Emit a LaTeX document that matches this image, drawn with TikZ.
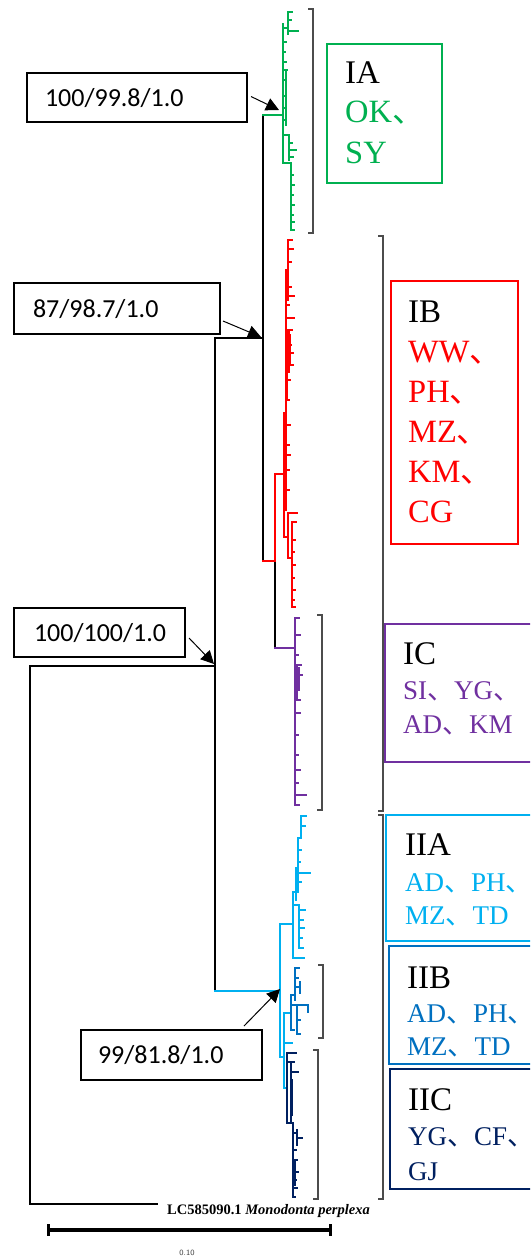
\documentclass[tikz,border=0pt]{standalone}
\usepackage{fontspec}
\setmainfont{Liberation Serif}
\newfontfamily\cjkf{Noto Sans CJK SC}
\newfontfamily\calib{Carlito}
\usetikzlibrary{arrows.meta,calc}
\definecolor{cgreen}{HTML}{00B050}
\definecolor{cred}{HTML}{FF0000}
\definecolor{cpurple}{HTML}{7030A0}
\definecolor{clblue}{HTML}{00B0F0}
\definecolor{cmblue}{HTML}{0070C0}
\definecolor{cnavy}{HTML}{002060}
\newcommand{\dn}{{\cjkf 、}}
\tikzset{
  tl/.style={line width=1.6pt, line cap=rect},
  blk/.style={tl, draw=black},
  gr/.style={tl, draw=cgreen},
  rd/.style={tl, draw=cred},
  pu/.style={tl, draw=cpurple},
  lb/.style={tl, draw=clblue},
  mb/.style={tl, draw=cmblue},
  nv/.style={tl, draw=cnavy},
  brk/.style={line width=1.3pt, draw=black!70},
  lbox/.style={draw, line width=2pt, anchor=north west, inner ysep=0pt, align=left,
    text height=17pt, text depth=0pt, font=\calib\fontsize{26}{26}\selectfont},
  cbox/.style={draw=#1, line width=2pt, anchor=north west, inner sep=0pt},
  head/.style={anchor=base west, inner sep=0pt, font=\fontsize{33}{33}\selectfont},
  codeA/.style={anchor=base west, inner sep=0pt, text=#1, font=\fontsize{32.5}{32.5}\selectfont},
  codeB/.style={anchor=base west, inner sep=0pt, text=#1, font=\fontsize{27}{27}\selectfont},
  pointer/.style={line width=1pt, -{Triangle[length=13pt,width=13pt]}},
}
\begin{document}
\begin{tikzpicture}[x=1pt,y=-1pt]
\useasboundingbox (0,0) rectangle (530,1258);
\fill[white] (0,0) rectangle (530,1258);
\clip (0,0) rectangle (530,1258);

% ---------- main tree coordinates ----------
\coordinate (root) at (30,666);
\coordinate (rootO) at (30,1204);
\coordinate (outg) at (157,1204);
\coordinate (nA) at (215,666);
\coordinate (nAtop) at (215,338);
\coordinate (nAbot) at (215,991);
\coordinate (nI) at (263,338);
\coordinate (nItop) at (263,115);
\coordinate (nIbot) at (263,561);
\coordinate (nBC) at (275,561);
\coordinate (nBCtop) at (275,474);
\coordinate (nBCbot) at (275,648);
\coordinate (nII) at (280,991);
\coordinate (nIItop) at (280,924);
\coordinate (nIIbot) at (280,1057);

% ---------- black backbone ----------
\draw[blk] (root) -- (rootO) -- (outg);
\draw[blk] (root) -- (nA);
\draw[blk] (nAtop) -- (nAbot);
\draw[blk] (nAtop) -- (nI);
\draw[blk] (nItop) -- (nIbot);
\draw[blk] (nBC) -- (nBCbot);

% ---------- IA (green) ----------
\draw[gr] (nItop) -- (283,115);
\draw[gr] (283,24) -- (283,163);
\draw[gr] (283,28) -- (288,28) (288,12) -- (288,34) (288,12) -- (292,12) (288,20) -- (291,20) (288,31) -- (298,31);
\draw[gr] (283,42) -- (286,42) (283,52) -- (285,52) (283,62) -- (286,62) (283,70) -- (287,70) (286,70) -- (286,125)
          (283,80) -- (285,80) (283,96) -- (286,96) (283,108) -- (285,108) (283,120) -- (286,120);
\draw[gr] (283,135) -- (289,135) -- (289,160) (289,150) -- (296,150) (289,143) -- (292,143) (289,157) -- (293,157);
\draw[gr] (283,163) -- (291,163) -- (291,230);
\draw[gr] (291,175) -- (293,175) (291,185) -- (294,185) (291,195) -- (293,195) (291,205) -- (294,205)
          (291,215) -- (293,215) (291,222) -- (294,222) (291,230) -- (294,230);

% ---------- IB (red) ----------
\draw[rd] (nBC) -- (nIbot);
\draw[rd] (nBC) -- (nBCtop) -- (284,474);
\draw[rd] (284,413) -- (284,537);
\draw[rd] (284,413) -- (286,413) (286,270) -- (286,510) (286,270) -- (288,270) (288,240) -- (288,300);
\draw[rd] (288,240) -- (292,240) (288,249) -- (293,249) (288,262) -- (291,262) (288,287) -- (291,287) (288,296) -- (294,296);
\draw[rd] (287,330) -- (287,400) (289,330) -- (289,372) (290,335) -- (290,365);
\draw[rd] (286,305) -- (289,305) (286,318) -- (294,318) (286,330) -- (292,330) (286,345) -- (291,345)
          (286,353) -- (293,353) (286,365) -- (293,365) (286,380) -- (290,380) (286,400) -- (289,400)
          (286,425) -- (290,425) (286,445) -- (289,445) (286,455) -- (290,455) (286,470) -- (289,470) (286,490) -- (289,490);
\draw[rd] (284,537) -- (288,537) (288,513) -- (288,558) (288,513) -- (297,513) (288,558) -- (292,558);
\draw[rd] (292,522) -- (292,607) (292,522) -- (296,522);
\draw[rd] (292,540) -- (295,540) (292,552) -- (294,552) (292,565) -- (295,565) (292,578) -- (294,578)
          (292,590) -- (295,590) (292,600) -- (294,600) (292,607) -- (295,607);

% ---------- IC (purple) ----------
\draw[pu] (nBCbot) -- (295,648);
\draw[pu] (295,618) -- (295,805);
\draw[pu] (297,665) -- (297,700) (299,668) -- (299,690);
\draw[pu] (295,618) -- (299,618) (295,635) -- (300,635) (295,655) -- (298,655) (297,665) -- (301,665)
          (297,675) -- (302,675) (297,700) -- (300,700) (295,713) -- (300,713) (295,735) -- (298,735)
          (295,755) -- (298,755) (295,770) -- (300,770) (295,783) -- (298,783) (295,795) -- (306,795) (295,805) -- (299,805);

% ---------- II (light blue) ----------
\draw[lb] (nAbot) -- (nII);
\draw[lb] (nIItop) -- (nIIbot);
\draw[lb] (nIItop) -- (293,924) (293,892) -- (293,958) (293,958) -- (304,958);
\draw[lb] (293,892) -- (298,892) (298,838) -- (298,892) (298,838) -- (301,838) (301,816) -- (301,838);
\draw[lb] (301,816) -- (306,816) (301,826) -- (305,826) (298,850) -- (301,850) (298,862) -- (300,862)
          (298,873) -- (310,873) (296,868) -- (296,900) (298,882) -- (301,882);
\draw[lb] (293,905) -- (299,905) (299,905) -- (299,948) (300,910) -- (305,910) (299,920) -- (303,920)
          (299,928) -- (304,928) (299,938) -- (302,938) (299,948) -- (303,948);
\draw[lb] (nIIbot) -- (284,1057) (284,1013) -- (284,1088) (284,1013) -- (291,1013) (284,1043) -- (292,1043) (284,1088) -- (287,1088);

% ---------- IIB (mid blue) ----------
\draw[mb] (291,995) -- (291,1030) (291,995) -- (295,995) (295,968) -- (295,1000);
\draw[mb] (295,968) -- (299,968) (295,978) -- (298,978) (295,987) -- (300,987) (300,982) -- (300,993);
\draw[mb] (291,1005) -- (308,1005) (308,1005) -- (308,1012) (297,1005) -- (297,1034) (297,1034) -- (300,1034)
          (297,1020) -- (300,1020) (291,1030) -- (294,1030);

% ---------- IIC (navy) ----------
\draw[nv] (287,1053) -- (287,1123) (287,1053) -- (296,1053) (287,1062) -- (291,1062) (291,1062) -- (291,1123);
\draw[nv] (292,1080) -- (292,1115) (291,1072) -- (298,1072) (291,1062) -- (294,1062);
\draw[nv] (287,1123) -- (293,1123) (293,1123) -- (293,1197);
\draw[nv] (293,1133) -- (297,1133) (297,1130) -- (297,1145) (297,1138) -- (302,1138);
\draw[nv] (293,1150) -- (296,1150) (293,1160) -- (297,1160) (295,1160) -- (295,1185) (293,1172) -- (298,1172)
          (293,1180) -- (296,1180) (293,1188) -- (297,1188) (293,1197) -- (295,1197);

% ---------- outgroup label ----------
\node[anchor=west, inner sep=0pt, font=\bfseries\fontsize{14.5}{14.5}\selectfont] (outlab) at (167,1211)
  {LC585090.1 \textit{Monodonta perplexa}};

% ---------- brackets ----------
\draw[brk] (308,9) -- (313,9) -- (313,233) -- (308,233);
\draw[brk] (378,236) -- (383,236) -- (383,811) -- (378,811);
\draw[brk] (317,615) -- (322,615) -- (322,810) -- (317,810);
\draw[brk] (378,815) -- (383,815) -- (383,1199) -- (378,1199);
\draw[brk] (318,965) -- (323,965) -- (323,1038) -- (318,1038);
\draw[brk] (313,1050) -- (318,1050) -- (318,1199) -- (313,1199);

% ---------- clade boxes ----------
\node[cbox=cgreen, minimum width=115pt, minimum height=139pt] (boxIA) at (326,43) {};
\node[cbox=cred, minimum width=127pt, minimum height=263pt] (boxIB) at (390,280) {};
\node[cbox=cpurple, minimum width=170pt, minimum height=138pt] (boxIC) at (384,623) {};
\node[cbox=clblue, minimum width=170pt, minimum height=126pt] (boxIIA) at (385,814) {};
\node[cbox=cmblue, minimum width=170pt, minimum height=118pt] (boxIIB) at (388,945) {};
\node[cbox=cnavy, minimum width=170pt, minimum height=120pt] (boxIIC) at (389,1068) {};

% IA
\node[head] (hIA) at (345,83) {IA};
\node[codeA=cgreen] (cIA1) at (345,122) {OK\dn};
\node[codeA=cgreen] (cIA2) at (345,163) {SY};
% IB
\node[head] (hIB) at (408,322) {IB};
\node[codeA=cred] (cIB1) at (408,362) {WW\dn};
\node[codeA=cred] (cIB2) at (408,402) {PH\dn};
\node[codeA=cred] (cIB3) at (408,442) {MZ\dn};
\node[codeA=cred] (cIB4) at (408,482) {KM\dn};
\node[codeA=cred] (cIB5) at (408,522) {CG};
% IC
\node[head] (hIC) at (403,664) {IC};
\node[codeB=cpurple] (cIC1) at (403,699) {SI\dn YG\dn};
\node[codeB=cpurple] (cIC2) at (403,733) {AD\dn KM};
% IIA
\node[head] (hIIA) at (405,855) {IIA};
\node[codeB=clblue] (cIIA1) at (405,891) {AD\dn PH\dn};
\node[codeB=clblue] (cIIA2) at (405,924) {MZ\dn TD};
% IIB
\node[head] (hIIB) at (407,988) {IIB};
\node[codeB=cmblue] (cIIB1) at (407,1022) {AD\dn PH\dn};
\node[codeB=cmblue] (cIIB2) at (407,1055) {MZ\dn TD};
% IIC
\node[head] (hIIC) at (408,1110) {IIC};
\node[codeB=cnavy] (cIIC1) at (408,1145) {YG\dn CF\dn};
\node[codeB=cnavy] (cIIC2) at (408,1180) {GJ};

% ---------- support labels ----------
\node[lbox, minimum width=220pt, minimum height=49pt, inner xsep=18pt, text width=184pt] (b1) at (26,72) {100/99.8/1.0};
\node[lbox, minimum width=206pt, minimum height=51pt, inner xsep=19pt, text width=168pt] (b2) at (13,282) {87/98.7/1.0};
\node[lbox, minimum width=171pt, minimum height=49pt, inner xsep=20pt, text width=131pt] (b3) at (13,607) {100/100/1.0};
\node[lbox, minimum width=181pt, minimum height=50pt, inner xsep=17pt, text width=147pt] (b4) at (80,1029) {99/81.8/1.0};

\coordinate (tIA) at (279,110);
\coordinate (tI) at (261,337);
\coordinate (tRoot) at (214,664);
\coordinate (tII) at (280,989);
\draw[pointer] ($(b1.east)+(3,-1)$) -- (tIA);
\draw[pointer] ($(b2.east)+(2,12.5)$) -- (tI);
\draw[pointer] ($(b3.east)+(3,5.5)$) -- (tRoot);
\draw[pointer] ($(b4.north east)+(-19,-3)$) -- (tII);

% ---------- scale bar ----------
\coordinate (sb1) at (48,1230);
\coordinate (sb2) at (330,1230);
\draw[line width=4pt] (sb1) -- (sb2);
\draw[line width=3pt] ($(sb1)+(0,-6)$) -- ($(sb1)+(0,6)$) ($(sb2)+(0,-6)$) -- ($(sb2)+(0,6)$);
\node[inner sep=0pt, text=black!75, font=\sffamily\fontsize{8}{8}\selectfont] (sblab) at (187,1253) {0.10};
\end{tikzpicture}
\end{document}
